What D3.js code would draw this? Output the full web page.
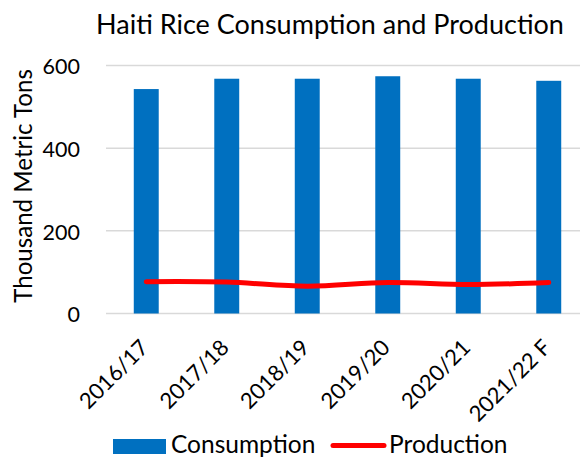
<!DOCTYPE html>
<html>
<head>
<meta charset="utf-8">
<script src="https://cdn.jsdelivr.net/npm/d3@7"></script>
<style>
  body { margin: 0; background: #fff; }
  text { font-family: Lato, "Open Sans", sans-serif; fill: #000; }
</style>
</head>
<body>
<div id="chart"></div>
<script>
var years = ["2016/17", "2017/18", "2018/19", "2019/20", "2020/21", "2021/22 F"];
var consumption = [543, 568, 568, 574, 568, 563];
var production = [77, 76, 66, 75, 70, 75];
var yTicks = [0, 200, 400, 600];

var W = 580, H = 458;
var margin = {top: 65.5, left: 106, bottom: 144.5};
var plotRight = 589;

var svg = d3.select("#chart").append("svg")
    .attr("width", W)
    .attr("height", H);

var x = d3.scaleBand()
    .domain(years)
    .range([margin.left, plotRight])
    .paddingInner(0.69)
    .paddingOuter(0.345);

var y = d3.scaleLinear()
    .domain([0, 600])
    .range([H - margin.bottom, margin.top]);

// gridlines
svg.append("g")
    .selectAll("line")
    .data(yTicks)
    .enter()
    .append("line")
    .attr("x1", margin.left)
    .attr("x2", W)
    .attr("y1", function(d) { return y(d); })
    .attr("y2", function(d) { return y(d); })
    .attr("stroke", "#d9d9d9")
    .attr("stroke-width", 1.5);

// y axis labels
var yAxis = svg.append("g")
    .attr("transform", "translate(" + (margin.left - 26) + ",0)")
    .call(d3.axisLeft(y).tickValues(yTicks).tickSize(0).tickPadding(0));
yAxis.select(".domain").remove();
yAxis.selectAll("text")
    .style("font-size", "21.5px")
    .attr("dy", "0.38em")
    .style("font-family", "Lato, sans-serif")
    .attr("fill", "#000");

// bars
svg.selectAll(".bar")
    .data(consumption)
    .enter()
    .append("rect")
    .attr("class", "bar")
    .attr("x", function(d, i) { return x(years[i]); })
    .attr("y", function(d) { return y(d); })
    .attr("width", x.bandwidth())
    .attr("height", function(d) { return y(0) - y(d); })
    .attr("fill", "#0070c0");

// production line
var line = d3.line()
    .x(function(d, i) { return x(years[i]) + x.bandwidth() / 2; })
    .y(function(d) { return y(d); })
    .curve(d3.curveCatmullRom.alpha(0.5));

svg.append("path")
    .datum(production)
    .attr("d", line)
    .attr("fill", "none")
    .attr("stroke", "#ff0000")
    .attr("stroke-width", 5)
    .attr("stroke-linecap", "round");

// x axis labels
var xAxis = svg.append("g")
    .attr("transform", "translate(0," + y(0) + ")")
    .call(d3.axisBottom(x).tickSize(0).tickPadding(0));
xAxis.select(".domain").remove();
xAxis.selectAll("text")
    .style("font-size", "22px")
    .style("font-family", "Lato, sans-serif")
    .attr("fill", "#000")
    .attr("text-anchor", "end")
    .attr("dy", "0")
    .attr("y", 0)
    .attr("transform", "translate(3.5,35.5) rotate(-45)");

// title
svg.append("text")
    .attr("x", 330)
    .attr("y", 34)
    .attr("text-anchor", "middle")
    .style("font-size", "27px")
    .text("Haiti Rice Consumption and Production");

// y axis title
svg.append("text")
    .attr("transform", "translate(32,186) rotate(-90)")
    .attr("text-anchor", "middle")
    .style("font-size", "24.1px")
    .text("Thousand Metric Tons");

// legend
var legend = svg.append("g");
legend.append("rect")
    .attr("x", 113).attr("y", 439)
    .attr("width", 53).attr("height", 15)
    .attr("fill", "#0070c0");
legend.append("text")
    .attr("x", 171).attr("y", 453)
    .style("font-size", "24.5px")
    .text("Consumption");
legend.append("line")
    .attr("x1", 333).attr("x2", 384)
    .attr("y1", 445.5).attr("y2", 445.5)
    .attr("stroke", "#ff0000")
    .attr("stroke-width", 5)
    .attr("stroke-linecap", "round");
legend.append("text")
    .attr("x", 389).attr("y", 453)
    .style("font-size", "24.5px")
    .text("Production");
</script>
</body>
</html>
